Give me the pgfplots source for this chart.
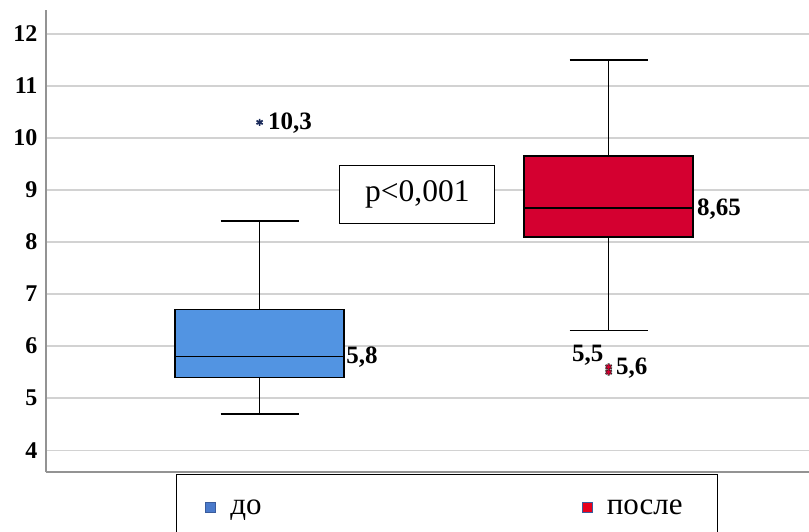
\documentclass[border=0pt]{standalone}
\usepackage{fontspec}
\setmainfont{Liberation Serif}
\usepackage{pgfplots}
\pgfplotsset{compat=1.18}
\usetikzlibrary{plotmarks}
\definecolor{boxblue}{HTML}{5294E2}
\definecolor{boxred}{HTML}{D40030}
\definecolor{legblueedge}{HTML}{3A5C9C}
\definecolor{legbluefill}{HTML}{4A7ACB}
\definecolor{legred}{HTML}{E8001C}
\definecolor{starnavy}{HTML}{1A2A5A}
\begin{document}
\begin{tikzpicture}
\begin{axis}[
  at={(46pt,59pt)}, anchor=south west,
  scale only axis,
  width=763pt, height=462pt,
  xmin=0.388, xmax=2.574,
  ymin=3.58, ymax=12.46,
  axis lines*=left,
  axis line style={draw=gray!85, line width=1.3pt},
  xtick=\empty,
  ytick={4,5,6,7,8,9,10,11,12},
  major tick length=0pt,
  ymajorgrids,
  grid style={draw=gray!35, line width=1.3pt},
  /pgf/number format/assume math mode=true,
  yticklabel style={font=\bfseries\fontsize{24}{24}\selectfont, xshift=-5pt},
  clip=false,
  legend columns=2,
  legend style={draw=none, fill=none, at={(0.2084,-0.0768)}, anchor=west,
    font=\fontsize{31}{31}\selectfont, inner sep=0pt,
    /tikz/every even column/.append style={column sep=318pt}},
  legend cell align=left,
]
% --- до: Q1=5.4, median=5.8, Q3=6.7, whiskers 4.7 / 8.4
\addplot[forget plot, black, line width=1.6pt] coordinates {(1,6.7) (1,8.4)};
\addplot[forget plot, black, line width=1.6pt] coordinates {(1,5.4) (1,4.7)};
\addplot[forget plot, black, line width=1.6pt] coordinates {(0.8885,8.4) (1.1115,8.4)};
\addplot[forget plot, black, line width=1.6pt] coordinates {(0.8885,4.7) (1.1115,4.7)};
\addplot[forget plot, draw=black, line width=1.4pt, fill=boxblue]
  coordinates {(0.758,5.4) (1.242,5.4) (1.242,6.7) (0.758,6.7)} -- cycle;
\addplot[forget plot, black, line width=1.6pt] coordinates {(0.758,5.8) (1.242,5.8)};
% --- после: Q1=8.1, median=8.65, Q3=9.65, whiskers 6.3 / 11.5
\addplot[forget plot, black, line width=1.6pt] coordinates {(2,9.65) (2,11.5)};
\addplot[forget plot, black, line width=1.6pt] coordinates {(2,8.1) (2,6.3)};
\addplot[forget plot, black, line width=1.6pt] coordinates {(1.8885,11.5) (2.1115,11.5)};
\addplot[forget plot, black, line width=1.6pt] coordinates {(1.8885,6.3) (2.1115,6.3)};
\addplot[forget plot, draw=black, line width=1.4pt, fill=boxred]
  coordinates {(1.758,8.1) (2.242,8.1) (2.242,9.65) (1.758,9.65)} -- cycle;
\addplot[forget plot, black, line width=1.6pt] coordinates {(1.758,8.65) (2.242,8.65)};
% outliers
\addplot[forget plot, only marks, mark=asterisk, mark size=3.6pt,
  mark options={draw=starnavy, line width=1.7pt}]
  coordinates {(1,10.3)};
\addplot[forget plot, only marks, mark=asterisk, mark size=3.6pt,
  mark options={draw=black!85, line width=2.0pt}]
  coordinates {(2,5.5) (2,5.6)};
\addplot[forget plot, only marks, mark=asterisk, mark size=2.8pt,
  mark options={draw=boxred, line width=1.0pt}]
  coordinates {(2,5.5) (2,5.6)};
% labels
\node[anchor=west, inner sep=0pt, font=\bfseries\fontsize{25}{25}\selectfont] at (axis cs:1.024,10.29) {10,3};
\node[anchor=west, inner sep=0pt, font=\bfseries\fontsize{25}{25}\selectfont] at (axis cs:1.248,5.79) {5,8};
\node[anchor=west, inner sep=0pt, font=\bfseries\fontsize{25}{25}\selectfont] at (axis cs:2.253,8.625) {8,65};
\node[anchor=center, inner sep=0pt, font=\bfseries\fontsize{25}{25}\selectfont] at (axis cs:1.940,5.82) {5,5};
\node[anchor=west, inner sep=0pt, font=\bfseries\fontsize{25}{25}\selectfont] at (axis cs:2.021,5.57) {5,6};
\node[draw=black, line width=1pt, fill=white, minimum width=155pt, minimum height=58pt,
  font=\fontsize{31.5}{31.5}\selectfont] at (axis cs:1.452,8.92) {p<0,001};
% legend
\addlegendimage{legend image code/.code={\draw[draw=legblueedge, fill=legbluefill, line width=1.2pt] (0pt,-5pt) rectangle (10pt,5pt);}}
\addlegendentry{\hspace{12pt}до}
\addlegendimage{legend image code/.code={\draw[draw=legblueedge, fill=legred, line width=1.2pt] (0pt,-5pt) rectangle (10pt,5pt);}}
\addlegendentry{\hspace{12pt}после}
\end{axis}
\draw[black, line width=1pt] (176pt,57pt) rectangle (717pt,-20pt);
\pgfresetboundingbox
\useasboundingbox (0,0) rectangle (809pt,531pt);
\end{tikzpicture}
\end{document}
